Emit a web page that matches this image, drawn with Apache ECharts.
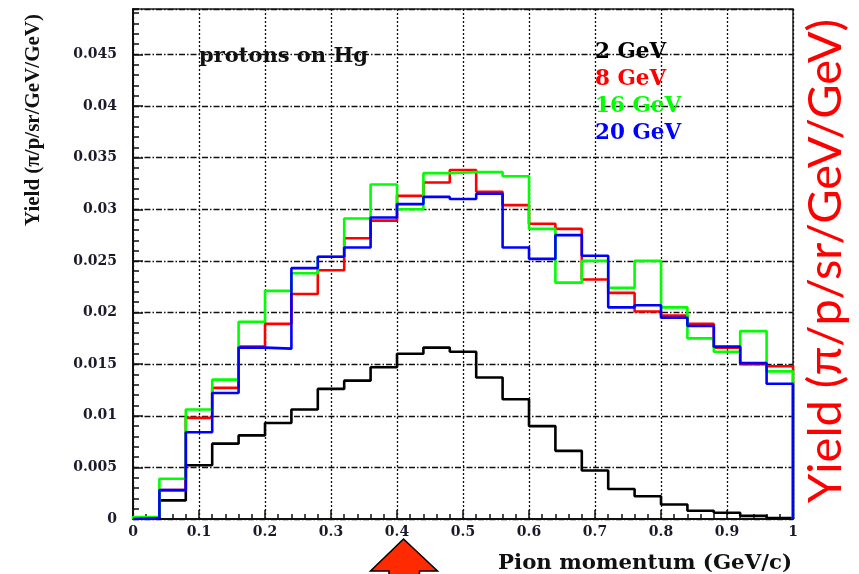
<!DOCTYPE html>
<html>
<head>
<meta charset="utf-8">
<script src="https://cdn.jsdelivr.net/npm/echarts@6/dist/echarts.min.js"></script>
<style>
html,body{margin:0;padding:0;background:#fff;}
#c{width:859px;height:574px;}
</style>
</head>
<body>
<div id="c"></div>
<script>
// Bin edges of the histogram (Pion momentum, GeV/c)
const binEdges = [0, 0.04, 0.08, 0.12, 0.16, 0.20, 0.24, 0.28, 0.32, 0.36, 0.40, 0.44, 0.48,
  0.52, 0.56, 0.60, 0.64, 0.68, 0.72, 0.76, 0.80, 0.84, 0.88, 0.92, 0.96, 1.00];
const seriesNames = ['2 GeV', '8 GeV', '16 GeV', '20 GeV'];
const seriesColors = ['#000000', '#ff0000', '#00ff00', '#0000ff'];
// Yield per bin (pi/p/sr/GeV/GeV)
const yield2GeV = [0.0000, 0.0018, 0.0052, 0.0073, 0.0081, 0.0093, 0.0106, 0.0126, 0.0134, 0.0147,
  0.0160, 0.0166, 0.0162, 0.0137, 0.0116, 0.0090, 0.0066, 0.0047, 0.0029, 0.0022,
  0.0014, 0.0008, 0.0006, 0.0003, 0.0001];
const yield8GeV = [0.0001, 0.0028, 0.0098, 0.0127, 0.0167, 0.0189, 0.0218, 0.0241, 0.0272, 0.0289,
  0.0313, 0.0326, 0.0338, 0.0317, 0.0304, 0.0286, 0.0281, 0.0232, 0.0219, 0.0201,
  0.0197, 0.0189, 0.0166, 0.0150, 0.0148];
const yield16GeV = [0.0002, 0.0039, 0.0106, 0.0135, 0.0191, 0.0221, 0.0238, 0.0254, 0.0291, 0.0324,
  0.0300, 0.0335, 0.0336, 0.0336, 0.0332, 0.0281, 0.0229, 0.0250, 0.0224, 0.0250,
  0.0205, 0.0175, 0.0162, 0.0182, 0.0143];
const yield20GeV = [0.0001, 0.0028, 0.0084, 0.0122, 0.0166, 0.0165, 0.0243, 0.0254, 0.0263, 0.0292,
  0.0305, 0.0312, 0.0310, 0.0315, 0.0263, 0.0252, 0.0275, 0.0255, 0.0205, 0.0207,
  0.0195, 0.0187, 0.0167, 0.0151, 0.0131];
const allYields = [yield2GeV, yield8GeV, yield16GeV, yield20GeV];

const xTitle = 'Pion momentum (GeV/c)';
const yTitle = 'Yield (\u03c0/p/sr/GeV/GeV)';
const plotNote = 'protons on Hg';

function histPoints(vals) {
  const pts = [[binEdges[0], 0]];
  for (let i = 0; i < binEdges.length; i++) {
    pts.push([binEdges[i], vals[Math.min(i, vals.length - 1)]]);
  }
  pts.push([binEdges[binEdges.length - 1], 0]);
  return pts;
}

const serifB = 'DejaVu Serif';
const chart = echarts.init(document.getElementById('c'), null, {renderer: 'canvas'});
const option = {
  animation: false,
  backgroundColor: '#fff',
  grid: {left: 133, right: 66, top: 9, bottom: 55, show: true, borderColor: '#222', borderWidth: 1.5, backgroundColor: 'transparent'},
  legend: {
    orient: 'vertical', left: 590, top: 41, padding: 0, itemGap: 5,
    itemWidth: 0, itemHeight: 0, icon: 'rect', selectedMode: false,
    textStyle: {fontFamily: serifB, fontWeight: 'bold', fontSize: 21.5, lineHeight: 21, padding: [0,0,0,0]},
    data: seriesNames.map((n, i) => ({name: n, textStyle: {color: seriesColors[i]}}))
  },
  xAxis: {
    type: 'value', min: 0, max: 1, interval: 0.1,
    axisLine: {show: true, onZero: false, lineStyle: {color: '#111', width: 2}},
    axisTick: {show: true, inside: true, length: 9, lineStyle: {color: '#111', width: 1.5}},
    minorTick: {show: true, splitNumber: 5, length: 5, lineStyle: {color: '#111', width: 1.5}},
    axisLabel: {fontFamily: serifB, fontWeight: 'bold', fontSize: 14, color: '#1a1a2a', margin: 6},
    splitLine: {show: true, lineStyle: {color: '#111', width: 1.3, type: [2, 2]}}
  },
  yAxis: [{
    type: 'value', min: 0, max: 0.0494, interval: 0.005,
    axisLine: {show: true, onZero: false, lineStyle: {color: '#111', width: 2}},
    axisTick: {show: true, inside: true, length: 10, lineStyle: {color: '#111', width: 1.5}},
    axisLabel: {fontFamily: serifB, fontWeight: 'bold', fontSize: 14, color: '#1a1a2a', margin: 16, showMaxLabel: false},
    splitLine: {show: true, lineStyle: {color: '#111', width: 1.3, type: [6, 2, 1.5, 2]}}
  }, {
    type: 'value', min: 0, max: 0.0494, interval: 0.001, position: 'left', offset: 0,
    axisLine: {show: false},
    axisTick: {show: true, inside: true, length: 6, lineStyle: {color: '#111', width: 1.5}},
    axisLabel: {show: false},
    splitLine: {show: false}
  }],
  series: seriesNames.map((n, i) => ({
    name: n, type: 'line', step: 'end', showSymbol: false, symbol: 'none',
    yAxisIndex: 0,
    color: seriesColors[i],
    lineStyle: {color: seriesColors[i], width: 2.6},
    data: histPoints(allYields[i]),
    z: 3 + i
  })),
  graphic: [
    {type: 'text', left: 199, top: 46, style: {text: plotNote, fontFamily: serifB, fontWeight: 'bold', fontSize: 21, fill: '#111'}},
    {type: 'text', x: 34, y: 120, rotation: Math.PI / 2,
     style: {text: yTitle, fontFamily: 'Liberation Serif', fontWeight: 'bold', fontSize: 21, fill: '#111', align: 'center', verticalAlign: 'middle'}},
    {type: 'text', x: 792, y: 563,
     style: {text: xTitle, fontFamily: serifB, fontWeight: 'bold', fontSize: 21.3, fill: '#111', align: 'right', verticalAlign: 'middle'}},
    {type: 'text', x: 826, y: 261, rotation: Math.PI / 2,
     style: {text: yTitle, fontFamily: 'Lato', fontSize: 47, fill: '#ff0000', align: 'center', verticalAlign: 'middle'}},
    {type: 'polygon', shape: {points: [[403.5, 539], [437.5, 571], [419.5, 571], [419.5, 580], [389, 580], [389, 571], [370.5, 571]]},
     style: {fill: '#ff2a00', stroke: '#000', lineWidth: 1.5}}
  ]
};
chart.setOption(option);
</script>
</body>
</html>
